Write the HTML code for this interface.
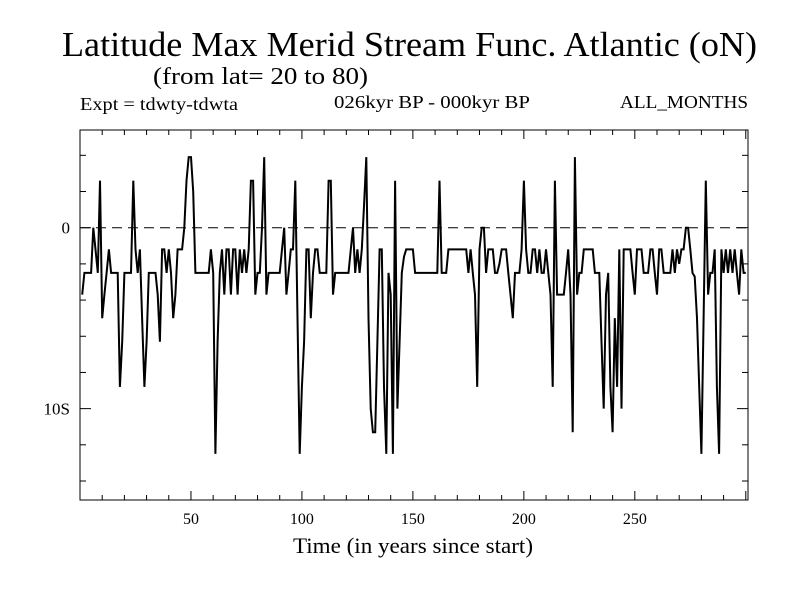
<!DOCTYPE html>
<html><head><meta charset="utf-8"><style>
body{margin:0;background:#fff;}
svg{display:block;font-family:"Liberation Serif",serif;}
</style></head><body>
<svg id="chart" width="800" height="600" viewBox="0 0 800 600" xmlns="http://www.w3.org/2000/svg">
<text x="62" y="56" font-size="35" textLength="695" lengthAdjust="spacingAndGlyphs">Latitude Max Merid Stream Func. Atlantic (oN)</text>
<text x="153" y="84" font-size="24" textLength="215" lengthAdjust="spacingAndGlyphs">(from lat= 20 to 80)</text>
<text x="80" y="110" font-size="18" textLength="158" lengthAdjust="spacingAndGlyphs">Expt = tdwty-tdwta</text>
<text x="334" y="108" font-size="18" textLength="196" lengthAdjust="spacingAndGlyphs">026kyr BP - 000kyr BP</text>
<text x="620" y="108" font-size="18" textLength="128" lengthAdjust="spacingAndGlyphs">ALL_MONTHS</text>
<text x="293" y="553" font-size="22" textLength="240" lengthAdjust="spacingAndGlyphs">Time (in years since start)</text>
<g id="axes"></g>
<g id="plot"></g>
</svg>
<script>
const values = [
-3.7,-2.5,-2.5,-2.5,-2.5,0,-1.2,-2.5,2.6,-5.0,
-3.7,-2.5,-1.2,-2.5,-2.5,-2.5,-2.5,-8.8,-6.3,-2.5,
-2.5,-2.5,-2.5,2.6,-1.2,-2.5,-1.2,-5.0,-8.8,-6.3,
-2.5,-2.5,-2.5,-2.5,-3.7,-6.3,-1.2,-1.2,-2.5,-1.2,
-2.5,-5.0,-3.7,-1.2,-1.2,-1.2,0,2.6,3.9,3.9,
2.0,-2.5,-2.5,-2.5,-2.5,-2.5,-2.5,-2.5,-1.2,-2.5,
-12.5,-6.3,-2.5,-1.2,-3.7,-1.2,-1.2,-3.7,-1.2,-1.2,
-3.7,-1.2,-2.5,-1.2,-2.5,-1.2,2.6,2.6,-3.7,-2.5,
-2.5,0,3.9,-3.7,-2.5,-2.5,-2.5,-2.5,-2.5,-2.5,
-1.2,0,-3.7,-2.5,-1.2,-1.2,2.6,-5.0,-12.5,-8.8,
-6.3,-1.2,-1.2,-5.0,-2.5,-1.2,-1.2,-2.5,-2.5,-2.5,
-2.5,2.6,2.6,-3.7,-2.5,-2.5,-2.5,-2.5,-2.5,-2.5,
-2.5,-1.2,0,-2.5,-1.2,-2.5,-1.2,1.3,3.9,-5.0,
-10,-11.3,-11.3,-6.3,-1.2,-1.2,-8.8,-12.5,-2.5,-3.7,
-12.5,2.6,-10,-6.3,-2.5,-1.6,-1.2,-1.2,-1.2,-1.2,
-2.5,-2.5,-2.5,-2.5,-2.5,-2.5,-2.5,-2.5,-2.5,-2.5,
-2.5,2.6,-2.5,-2.5,-2.5,-1.2,-1.2,-1.2,-1.2,-1.2,
-1.2,-1.2,-1.2,-1.2,-2.5,-1.2,-2.5,-3.7,-8.8,-1.2,
0,0,-2.5,-1.2,-1.2,-1.2,-2.5,-2.5,-2.0,-1.2,
-1.2,-1.2,-2.5,-3.7,-5.0,-2.5,-2.5,-2.5,-1.2,2.6,
-1.2,-2.5,-2.5,-1.2,-1.2,-2.5,-1.2,-2.5,-2.5,-1.2,
-2.5,-3.7,-8.8,2.6,-3.7,-3.7,-3.7,-3.7,-2.5,-1.2,
-3.7,-11.3,3.9,-3.7,-2.5,-2.5,-1.2,-1.2,-1.2,-1.2,
-1.2,-2.5,-2.5,-2.5,-6.3,-10,-3.7,-2.5,-8.8,-11.3,
-5.0,-8.8,-1.2,-10,-1.2,-1.2,-1.2,-1.2,-2.5,-3.7,
-1.2,-1.2,-1.2,-2.5,-2.5,-2.5,-1.2,-1.2,-2.5,-3.7,
-1.2,-1.2,-2.5,-2.5,-2.5,-2.5,-1.2,-2.5,-1.2,-2.0,
-1.2,-1.2,0,0,-1.2,-2.5,-2.7,-5.0,-8.8,-12.5,
-5.0,2.6,-3.7,-2.5,-2.5,-1.2,-8.8,-12.5,-1.2,-2.5,
-1.2,-2.5,-1.2,-2.5,-1.2,-2.5,-3.7,-1.2,-2.5,-2.5
];
const xTickValues = [50,100,150,200,250];
const xTickLabels = ["50","100","150","200","250"];
const yTickValues = [0,-10];
const yTickLabels = ["0","10S"];

const L=80,R=748,T=130,B=500;
const X0=0,X1=301,Y0=5.4,Y1=-15.05;
const sx=t=>L+(t-X0)/(X1-X0)*(R-L);
const sy=v=>T+(Y0-v)/(Y0-Y1)*(B-T);
const NS='http://www.w3.org/2000/svg';
const axes=document.getElementById('axes'), plot=document.getElementById('plot');
function mk(tag,attrs,parent){const e=document.createElementNS(NS,tag);for(const k in attrs)e.setAttribute(k,attrs[k]);parent.appendChild(e);return e;}

const frame=mk('rect',{x:L,y:T,width:R-L,height:B-T,fill:'none',stroke:'#000','stroke-width':1},axes);



for(let t=10;t<X1;t+=10){
  const major=t%50===0, len=major?9:5;
  const a=mk('line',{x1:sx(t),x2:sx(t),y1:B,y2:B-len,stroke:'#000'},axes);
  
  
  const b=mk('line',{x1:sx(t),x2:sx(t),y1:T,y2:T+len,stroke:'#000'},axes);
  
  
}
xTickValues.forEach((v,i)=>{
  const tx=mk('text',{x:sx(v),y:524,'font-size':16,'text-anchor':'middle'},axes);
  tx.textContent=xTickLabels[i];
  
  
});
for(let v=4;v>=-14;v-=2){
  const major=v%10===0, len=major?11:6;
  const a=mk('line',{x1:L,x2:L+len,y1:sy(v),y2:sy(v),stroke:'#000'},axes);
  
  
  const b=mk('line',{x1:R,x2:R-len,y1:sy(v),y2:sy(v),stroke:'#000'},axes);
  
  
}
yTickValues.forEach((v,i)=>{
  const tx=mk('text',{x:70,y:sy(v)+6,'font-size':17,'text-anchor':'end'},axes);
  tx.textContent=yTickLabels[i];
  
  
});
const zl=mk('line',{x1:L,x2:R,y1:sy(0),y2:sy(0),stroke:'#000','stroke-dasharray':'10,6'},plot);



const pts=values.map((v,i)=>sx(i+1).toFixed(1)+','+sy(v).toFixed(1)).join(' ');
const line=mk('polyline',{points:pts,fill:'none',stroke:'#000','stroke-width':2,'stroke-linejoin':'miter'},plot);


</script>
</body></html>
